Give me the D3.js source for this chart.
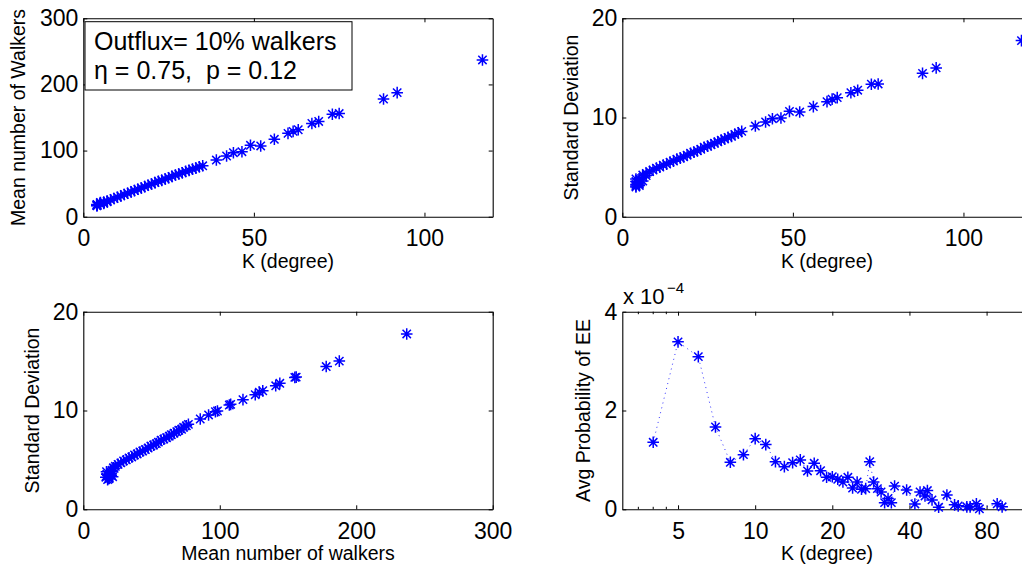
<!DOCTYPE html>
<html><head><meta charset="utf-8">
<script src="https://cdn.jsdelivr.net/npm/d3@7"></script>
<style>
html,body{margin:0;padding:0;background:#fff;overflow:hidden}
svg{display:block;font-family:"Liberation Sans",Arial,Helvetica,sans-serif}
</style></head><body>
<svg id="chart" width="1022" height="569"></svg>
<script>
// ---- data ----
const degree = [4,4,4,4,4,5,5,5,5,6,6,6,7,7,8,9,10,11,12,13,14,15,16,17,18,19,20,21,22,23,24,25,26,27,28,29,30,31,32,33,34,35,
  39,42,44,46.5,49,52,56,60,61.5,63,67,69,73,75,88,92,117];
const meanWalkers = [16.5,17.8,17.2,18.6,17.0,19.0,20.5,19.8,21.5,21.0,22.0,20.2,23.5,22.6,25.5,27.5,29.5,31.5,33.5,35.5,37.5,39.5,41.5,43.5,45.5,47.5,49.5,51.5,53.5,55.0,57.0,59.0,61.0,63.0,64.5,66.5,68.5,70.0,72.0,73.5,75.5,77.0,
  85.7,91.8,96.8,98.3,108,107,117,126,129,131.5,141,144,155,156,178,187.6,237];
const stdDev = [3.25,3.0,3.55,3.1,3.8,3.15,3.45,3.8,3.3,3.95,4.2,3.6,4.35,4.15,4.55,4.7,4.9,5.0,5.2,5.3,5.5,5.6,5.8,5.9,6.05,6.2,6.4,6.5,6.65,6.8,7.0,7.1,7.25,7.4,7.55,7.7,7.85,8.0,8.1,8.3,8.45,8.6,
  9.14,9.55,9.88,9.95,10.62,10.55,11.1,11.6,11.85,12.0,12.5,12.75,13.35,13.38,14.45,15.0,17.75];

const eeDegree = [4,5,6,7,8,9,10,11,12,13,14,15,16,17,18,19,20,21,22,23,24,25,26,27,28,29,30,31,32,33,34,35,39,42,44,46,47,49,52,56,60,62,67,69,73,75,88,92];
const eeProb = [1.356,3.39,3.09,1.666,0.951,1.106,1.43,1.31,0.965,0.863,0.944,1.0,0.776,0.931,0.782,0.648,0.66,0.607,0.553,0.648,0.43,0.553,0.405,0.418,0.965,0.553,0.418,0.35,0.135,0.22,0.135,0.47,0.39,0.108,0.35,0.27,0.38,0.19,0.04,0.29,0.09,0.07,0.05,0.05,0.11,0.01,0.11,0.05].map(v => v * 1e-4);

const kTicks = [0, 50, 100];
const meanTicks = [0, 100, 200, 300];
const stdTicks = [0, 10, 20];
const eeKTicks = [5, 10, 20, 40, 80];
const eeKMinor = [3.5, 4, 4.5];
const eeProbTicks = [0, 2e-4, 4e-4];
const legendLines = ["Outflux= 10% walkers", "\u03b7 = 0.75,  p = 0.12"];

// ---- drawing ----
const svg = d3.select("#chart");
const BLUE = "#0000ff";
const TICKFS = 23, LABELFS = 19.5;

function star(r) {
  const d = r * 0.72;
  return `M${-r},0L${r},0M0,${-r}L0,${r}M${-d},${-d}L${d},${d}M${-d},${d}L${d},${-d}`;
}

function panel(o) {
  const g = svg.append("g");
  const x = o.x, y = o.y;
  const [L, R] = x.range(), [B, T] = y.range();
  const styleAxis = sel => {
    sel.selectAll("path.domain").attr("stroke", "#000").attr("stroke-width", 1.1);
    sel.selectAll(".tick line").attr("stroke", "#000").attr("stroke-width", 1);
    sel.selectAll("text").attr("font-size", TICKFS).attr("fill", "#000")
       .attr("font-family", '"Liberation Sans",Arial,sans-serif');
  };
  const fmtX = o.xFmt || (d => d);
  const fmtY = o.yFmt || (d => d);
  g.append("g").attr("transform", `translate(0,${B})`)
    .call(d3.axisBottom(x).tickValues(o.xTicks).tickFormat(fmtX).tickSizeInner(-4).tickSizeOuter(0).tickPadding(13))
    .call(styleAxis);
  g.append("g").attr("transform", `translate(0,${T})`)
    .call(d3.axisTop(x).tickValues(o.xTicks).tickFormat("").tickSizeInner(-4).tickSizeOuter(0))
    .call(styleAxis);
  g.append("g").attr("transform", `translate(${L},0)`)
    .call(d3.axisLeft(y).tickValues(o.yTicks).tickFormat(fmtY).tickSizeInner(-4).tickSizeOuter(0).tickPadding(5))
    .call(styleAxis);
  g.append("g").attr("transform", `translate(${R},0)`)
    .call(d3.axisRight(y).tickValues(o.yTicks).tickFormat("").tickSizeInner(-4).tickSizeOuter(0))
    .call(styleAxis);
  if (o.xMinor) {
    [B, T].forEach((yy, i) => {
      g.append("g").selectAll("line").data(o.xMinor).join("line")
        .attr("x1", d => x(d)).attr("x2", d => x(d))
        .attr("y1", yy).attr("y2", i === 0 ? yy - 2.5 : yy + 2.5)
        .attr("stroke", "#000").attr("stroke-width", 1);
    });
  }
  // labels
  g.append("text").attr("x", (L + R) / 2).attr("y", B + 51)
    .attr("text-anchor", "middle").attr("font-size", LABELFS).text(o.xLabel);
  g.append("text").attr("transform", `translate(${L - o.yLabelOff},${(B + T) / 2}) rotate(-90)`)
    .attr("text-anchor", "middle").attr("font-size", LABELFS).text(o.yLabel);
  // line
  if (o.line) {
    g.append("path").datum(o.pts)
      .attr("d", d3.line().x(d => x(d[0])).y(d => y(d[1])))
      .attr("fill", "none").attr("stroke", BLUE).attr("stroke-width", 1)
      .attr("stroke-dasharray", "1,4").attr("opacity", 0.8);
  }
  // markers
  g.append("g").selectAll("path").data(o.pts).join("path")
    .attr("transform", d => `translate(${x(d[0])},${y(d[1])})`)
    .attr("d", star(5.8)).attr("fill", "none").attr("stroke", BLUE).attr("stroke-width", 1.5);
  return g;
}

const L1 = 83.3, R1 = 492.7, L2 = 622.3, R2 = 1031.7;
const T1 = 18.3, B1 = 216.7, T2 = 311.7, B2 = 509.3;

const pts1 = degree.map((k, i) => [k, meanWalkers[i]]);
const pts2 = degree.map((k, i) => [k, stdDev[i]]);
const pts3 = meanWalkers.map((m, i) => [m, stdDev[i]]);
const pts4 = eeDegree.map((k, i) => [k, eeProb[i]]);

panel({
  x: d3.scaleLinear().domain([0, 120]).range([L1, R1]),
  y: d3.scaleLinear().domain([0, 300]).range([B1, T1]),
  xTicks: kTicks, yTicks: meanTicks, pts: pts1,
  xLabel: "K (degree)", yLabel: "Mean number of Walkers", yLabelOff: 58
});
// legend box
const lg = svg.append("g");
lg.append("rect").attr("x", 85).attr("y", 21.7).attr("width", 267).attr("height", 68.3)
  .attr("fill", "#fff").attr("stroke", "#000").attr("stroke-width", 1);
lg.selectAll("text").data(legendLines).join("text")
  .attr("x", 94).attr("y", (d, i) => 50 + i * 29)
  .attr("font-size", 25).style("white-space", "pre").text(d => d);

panel({
  x: d3.scaleLinear().domain([0, 120]).range([L2, R2]),
  y: d3.scaleLinear().domain([0, 20]).range([B1, T1]),
  xTicks: kTicks, yTicks: stdTicks, pts: pts2,
  xLabel: "K (degree)", yLabel: "Standard Deviation", yLabelOff: 44
});

panel({
  x: d3.scaleLinear().domain([0, 300]).range([L1, R1]),
  y: d3.scaleLinear().domain([0, 20]).range([B2, T2]),
  xTicks: meanTicks, yTicks: stdTicks, pts: pts3,
  xLabel: "Mean number of walkers", yLabel: "Standard Deviation", yLabelOff: 44
});

panel({
  x: d3.scaleLog().domain([3.03, 120]).range([L2, R2]),
  y: d3.scaleLinear().domain([0, 4e-4]).range([B2, T2]),
  xTicks: eeKTicks, xMinor: eeKMinor, yTicks: eeProbTicks, pts: pts4, line: true,
  yFmt: d => Math.round(d / 1e-4),
  xLabel: "K (degree)", yLabel: "Avg Probability of EE", yLabelOff: 32
});
// exponent label
svg.append("text").attr("x", 623).attr("y", 304).attr("font-size", 22).text("x 10");
svg.append("text").attr("x", 667).attr("y", 293).attr("font-size", 15).text("\u22124");
</script>
</body></html>
